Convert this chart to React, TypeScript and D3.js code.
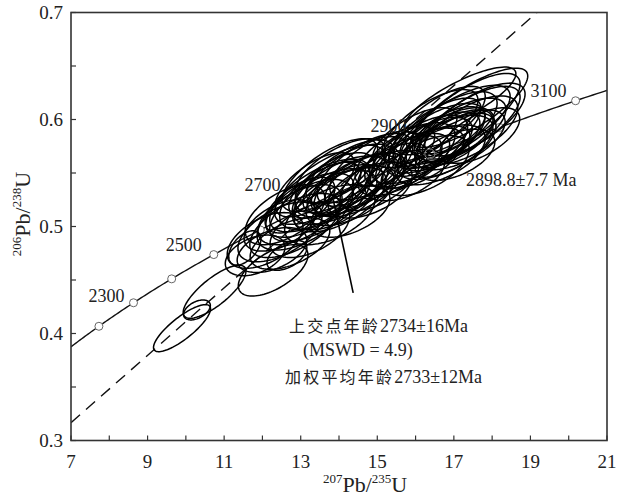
import React from "react";
import * as d3 from "d3";

const W = 619;
const H = 499;
const margin = { left: 71, right: 12, top: 12.5, bottom: 58.5 };

// axis ticks
const xMajor = [7, 9, 11, 13, 15, 17, 19, 21];
const xMinor = [8, 10, 12, 14, 16, 18, 20];
const yMajor = [0.3, 0.4, 0.5, 0.6, 0.7];
const yMinor = [0.35, 0.45, 0.55, 0.65];

// concordia (decay constants, per year)
const L238 = 1.55125e-10;
const L235 = 9.8485e-10;
const concordiaAges = [2200, 2300, 2400, 2500, 2600, 2700, 2800, 2900, 3000, 3100];
const labelledAges = [2300, 2500, 2700, 2900, 3100];
const labelOffsets = [[-9, -1], [-12, -4], [-31, -14], [-24, -22], [-9, -4]];

// discordia line end points (207/235, 206/238)
const discordia = [[7, 0.3166], [19.17, 0.7]];
const upperIntercept = [13.85, 0.525];
const pointerEnd = [14.37, 0.438];
const concordiaAge = 2898.8;

// spot ellipses: [207Pb/235U, 206Pb/238U, err x, err y, rho]
const lowerSpots = [
  [9.9, 0.405, 0.745, 0.022, 0.82],
  [10.29, 0.422, 0.35, 0.0093, 0.45],
  [10.75, 0.439, 0.82, 0.0248, 0.78],
  [12.28, 0.459, 0.91, 0.024, 0.6],
  [12.64, 0.473, 0.52, 0.014, 0.5],
  [11.54, 0.48, 0.42, 0.016, 0.5],
];

const groupA = [
  [12.07, 0.487, 0.99, 0.026, 0.5],
  [12.46, 0.495, 1.1, 0.028, 0.55],
  [12.25, 0.478, 0.91, 0.021, 0.45],
  [12.85, 0.501, 1.18, 0.03, 0.6],
  [12.72, 0.484, 1.04, 0.024, 0.5],
  [13.11, 0.511, 1.25, 0.033, 0.6],
  [13.24, 0.497, 1.04, 0.026, 0.5],
  [13.5, 0.52, 1.31, 0.034, 0.65],
  [13.63, 0.529, 1.18, 0.032, 0.6],
  [13.76, 0.539, 1.44, 0.037, 0.7],
  [13.89, 0.525, 1.1, 0.028, 0.55],
  [14.03, 0.534, 1.25, 0.032, 0.6],
  [14.16, 0.543, 1.31, 0.034, 0.65],
  [14.29, 0.529, 1.15, 0.028, 0.55],
  [14.42, 0.548, 1.36, 0.036, 0.7],
  [14.55, 0.539, 1.2, 0.03, 0.6],
  [14.68, 0.553, 1.25, 0.034, 0.65],
  [14.81, 0.534, 1.1, 0.026, 0.5],
  [13.76, 0.511, 1.18, 0.028, 0.5],
  [13.37, 0.539, 1.04, 0.03, 0.65],
  [14.03, 0.552, 1.18, 0.03, 0.65],
  [14.94, 0.557, 1.18, 0.032, 0.65],
  [14.29, 0.514, 1.04, 0.024, 0.5],
  [12.98, 0.52, 0.91, 0.026, 0.6],
  [12.59, 0.511, 1.04, 0.028, 0.55],
  [15.07, 0.543, 1.04, 0.028, 0.6],
  [11.81, 0.473, 0.78, 0.019, 0.4],
  [13.89, 0.541, 1.04, 0.028, 0.6],
  [14.16, 0.534, 0.99, 0.024, 0.55],
  [13.63, 0.534, 0.94, 0.026, 0.6],
  [14.42, 0.539, 1.15, 0.028, 0.6],
  [14.03, 0.525, 1.2, 0.03, 0.6],
  [13.5, 0.529, 1.31, 0.034, 0.65],
  [14.29, 0.551, 1.15, 0.03, 0.65],
  [13.24, 0.52, 1.15, 0.03, 0.6],
  [14.68, 0.543, 1.04, 0.026, 0.6],
  [12.98, 0.511, 1.1, 0.028, 0.55],
  [12.46, 0.501, 0.94, 0.024, 0.5],
  [13.76, 0.548, 1.25, 0.034, 0.7],
];

const groupB = [
  [15.59, 0.557, 1.1, 0.028, 0.6],
  [15.85, 0.567, 1.18, 0.03, 0.6],
  [15.72, 0.548, 1.04, 0.024, 0.5],
  [16.11, 0.572, 1.25, 0.032, 0.65],
  [16.25, 0.557, 1.15, 0.028, 0.55],
  [16.51, 0.581, 1.31, 0.034, 0.65],
  [16.64, 0.567, 1.18, 0.028, 0.55],
  [16.77, 0.59, 1.36, 0.036, 0.7],
  [16.9, 0.576, 1.2, 0.03, 0.6],
  [17.03, 0.595, 1.44, 0.037, 0.72],
  [17.16, 0.581, 1.18, 0.028, 0.6],
  [17.29, 0.604, 1.44, 0.039, 0.75],
  [17.42, 0.59, 1.25, 0.032, 0.65],
  [17.42, 0.611, 1.51, 0.037, 0.8],
  [17.55, 0.6, 1.31, 0.034, 0.7],
  [16.38, 0.594, 1.25, 0.034, 0.7],
  [15.98, 0.583, 1.1, 0.028, 0.65],
  [17.68, 0.585, 1.04, 0.026, 0.6],
  [17.03, 0.567, 1.04, 0.024, 0.5],
  [16.64, 0.599, 1.18, 0.032, 0.7],
  [15.33, 0.552, 0.99, 0.026, 0.6],
  [17.16, 0.618, 1.46, 0.031, 0.8],
  [16.9, 0.59, 0.91, 0.022, 0.6],
  [16.51, 0.573, 0.91, 0.021, 0.55],
  [15.46, 0.566, 1.04, 0.028, 0.65],
  [16.64, 0.581, 1.04, 0.026, 0.6],
  [16.9, 0.583, 1.15, 0.028, 0.6],
  [16.38, 0.576, 1.1, 0.026, 0.6],
  [17.16, 0.59, 1.2, 0.03, 0.65],
  [16.77, 0.574, 1.25, 0.03, 0.6],
  [16.11, 0.564, 1.15, 0.028, 0.6],
  [17.42, 0.597, 1.31, 0.034, 0.7],
  [17.03, 0.585, 0.99, 0.024, 0.6],
  [15.85, 0.561, 1.04, 0.026, 0.6],
  [16.51, 0.588, 1.2, 0.032, 0.7],
];

const serif = "'Liberation Serif', 'Times New Roman', serif";
const cjk = "'Liberation Serif', 'Noto Sans CJK SC', serif";

const ratios = (ma: number) => [
  Math.exp(L235 * ma * 1e6) - 1,
  Math.exp(L238 * ma * 1e6) - 1,
];

export default function App() {
  const x = d3.scaleLinear().domain([7, 21]).range([margin.left, W - margin.right]);
  const y = d3.scaleLinear().domain([0.3, 0.7]).range([H - margin.bottom, margin.top]);

  const line = d3.line<number[]>().x(d => x(d[0])).y(d => y(d[1]));

  // concordia curve between the axis limits
  const tMin = Math.log(8) / L235 / 1e6;
  const tMax = Math.log(22) / L235 / 1e6;
  const curvePts = d3.range(tMin, tMax, 5).concat([tMax]).map(ratios);

  const ellipsePath = (e: number[]) => {
    const [cx, cy, sx, sy, r] = e;
    const k = Math.sqrt(1 - r * r);
    const pts = d3.range(0, 96).map(i => {
      const t = (i / 96) * Math.PI * 2;
      return [cx + sx * Math.cos(t), cy + sy * (r * Math.cos(t) + k * Math.sin(t))];
    });
    return line(pts) + "Z";
  };

  const spots = [...lowerSpots, ...groupA, ...groupB];
  const [caX, caY] = ratios(concordiaAge);
  const x0 = margin.left, x1 = W - margin.right;
  const y0 = margin.top, y1 = H - margin.bottom;

  return (
    <svg width={W} height={H} style={{ position: "absolute", left: 0, top: 0, background: "#fff" }}>
      <defs>
        <clipPath id="plot">
          <rect x={x0} y={y0} width={x1 - x0} height={y1 - y0} />
        </clipPath>
      </defs>

      {/* ticks */}
      <g stroke="#333" strokeWidth={1.2}>
        {xMajor.concat(xMinor).map(v => (
          <line key={"xt" + v} x1={x(v)} x2={x(v)} y1={y1} y2={y1 - 5} />
        ))}
        {yMajor.concat(yMinor).map(v => (
          <line key={"yt" + v} x1={x0} x2={x0 + 5} y1={y(v)} y2={y(v)} />
        ))}
      </g>

      <g fontFamily={serif} fontSize={19} fill="#222">
        {xMajor.map(v => (
          <text key={"xl" + v} x={x(v)} y={y1 + 27} textAnchor="middle">{v}</text>
        ))}
        {yMajor.map(v => (
          <text key={"yl" + v} x={x0 - 8} y={y(v) + 6} textAnchor="end">{v.toFixed(1)}</text>
        ))}
      </g>

      <g clipPath="url(#plot)">
        <path d={line(discordia) || ""} fill="none" stroke="#111" strokeWidth={1.4} strokeDasharray="12 8" />
        <path d={d3.line<number[]>().x(d => x(d[0])).y(d => y(d[1])).curve(d3.curveBasis)(curvePts) || ""}
          fill="none" stroke="#111" strokeWidth={1.4} />
        {concordiaAges.map(a => {
          const [cx, cy] = ratios(a);
          return <circle key={"c" + a} cx={x(cx)} cy={y(cy)} r={4} fill="#fff" stroke="#666" strokeWidth={1} />;
        })}
        <g fill="none" stroke="#000" strokeWidth={1.5}>
          {spots.map((e, i) => <path key={"e" + i} d={ellipsePath(e)} />)}
        </g>
        <circle cx={x(caX)} cy={y(caY)} r={5} fill="none" stroke="#888" strokeWidth={1} />
        <path d={line([upperIntercept, pointerEnd]) || ""} stroke="#000" strokeWidth={1.6} />
      </g>

      <g fontFamily={serif} fontSize={18} fill="#222">
        {labelledAges.map((a, i) => {
          const [cx, cy] = ratios(a);
          return (
            <text key={"al" + a} x={x(cx) + labelOffsets[i][0]} y={y(cy) + labelOffsets[i][1]} textAnchor="end">{a}</text>
          );
        })}
        <text x={466} y={186}>{concordiaAge.toFixed(1)}±7.7 Ma</text>
      </g>

      <g fontFamily={cjk} fontSize={18} fill="#222">
        <text x={289} y={332}>
          <tspan fontSize={16} letterSpacing={2.2}>上交点年龄</tspan>2734±16Ma
        </text>
        <text x={303} y={356}>(MSWD = 4.9)</text>
        <text x={285} y={383}>
          <tspan fontSize={16} letterSpacing={2.2}>加权平均年龄</tspan>2733±12Ma
        </text>
      </g>

      <rect x={x0} y={y0} width={x1 - x0} height={y1 - y0} fill="none" stroke="#333" strokeWidth={1.6} />

      {/* axis titles */}
      <text x={323} y={492} fontFamily={serif} fontSize={22} fill="#222">
        <tspan fontSize={13} dy={-9}>207</tspan>
        <tspan dy={9}>Pb/</tspan>
        <tspan fontSize={13} dy={-9}>235</tspan>
        <tspan dy={9}>U</tspan>
      </text>
      <text transform="translate(30,214) rotate(-90)" textAnchor="middle" fontFamily={serif} fontSize={22} fill="#222">
        <tspan fontSize={13} dy={-9}>206</tspan>
        <tspan dy={9}>Pb/</tspan>
        <tspan fontSize={13} dy={-9}>238</tspan>
        <tspan dy={9}>U</tspan>
      </text>
    </svg>
  );
}
